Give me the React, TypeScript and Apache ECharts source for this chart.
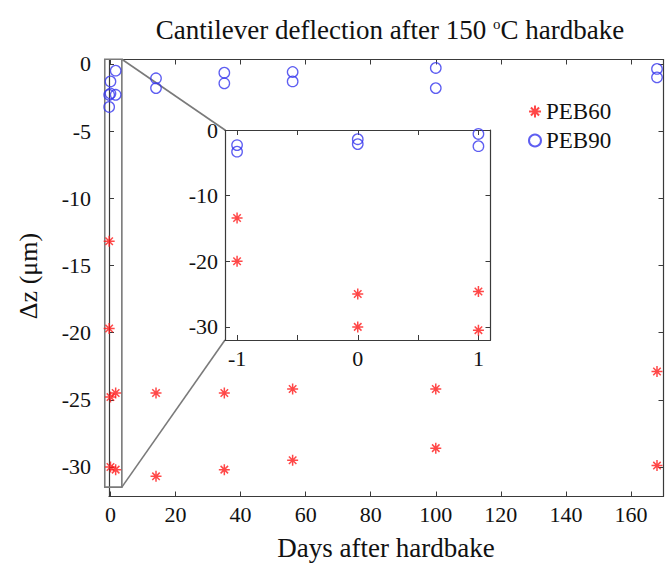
import React, { useEffect, useRef } from 'react';
import * as echarts from 'echarts';

const SERIF = "'Liberation Serif', 'DejaVu Serif', serif";
const RED = '#ff1a1a';
const BLUE = '#3636ee';
const AXIS = '#3a3a3a';
const BOXC = '#7a7a7a';

// Main plot data (days after hardbake)
const mainDays = [-0.4, 0, 1.6, 14, 35, 56, 100, 168];
const peb60Upper = [-13.2, -24.8, -24.5, -24.5, -24.5, -24.2, -24.2, -22.9];
const peb60Lower = [-19.7, -30.0, -30.2, -30.7, -30.2, -29.5, -28.6, -29.9];
const peb90Upper = [-2.3, -1.3, -0.5, -1.07, -0.65, -0.6, -0.3, -0.37];
const peb90Lower = [-3.2, -2.2, -2.3, -1.8, -1.44, -1.3, -1.8, -1.0];

// Inset data
const insetX = [-1, 0, 1];
const insetPeb60Upper = [-13.4, -25.0, -24.6];
const insetPeb60Lower = [-20.0, -30.0, -30.5];
const insetPeb90Upper = [-2.3, -1.4, -0.6];
const insetPeb90Lower = [-3.3, -2.15, -2.46];

// Tick labels
const mainXTicks = [0, 20, 40, 60, 80, 100, 120, 140, 160];
const mainYTicks = [0, -5, -10, -15, -20, -25, -30];
const insetXTicks = [-1, -0.5, 0, 0.5, 1];
const insetXLabels = [-1, 0, 1];
const insetYTicks = [0, -10, -20, -30];

// Zoom box (data extent in main axes)
const zoomBox = { x0: -1.75, x1: 3.5, y0: -31.5, y1: 0.35 };

const pairs = (xs: number[], a: number[], b: number[]) =>
  xs.flatMap((x, i) => [[x, a[i]], [x, b[i]]]);

const STAR = 'path://M5,0L5,10M0,5L10,5M1.6,1.6L8.4,8.4M1.6,8.4L8.4,1.6';

const starStyle = { color: 'transparent', borderColor: RED, borderWidth: 1.5 };
const circStyle = { color: 'transparent', borderColor: BLUE, borderWidth: 1.3 };

const axisLine = { show: true, onZero: false, lineStyle: { color: AXIS, width: 1.2 } };
const lbl = { fontFamily: SERIF, fontSize: 22, color: '#111' };

function xAx(grid: number, pos: string, min: number, max: number, ticks: number[], labels: number[] | null, z: number) {
  return {
    type: 'value', gridIndex: grid, position: pos, min, max, z,
    axisLine, splitLine: { show: false },
    axisTick: { show: true, inside: true, length: 5, customValues: ticks, lineStyle: { color: AXIS } },
    axisLabel: labels ? { show: true, customValues: labels, margin: 7, ...lbl } : { show: false },
  };
}
function yAx(grid: number, pos: string, min: number, max: number, ticks: number[], labels: number[] | null, margin: number, z: number) {
  return {
    type: 'value', gridIndex: grid, position: pos, min, max, z,
    axisLine, splitLine: { show: false },
    axisTick: { show: true, inside: true, length: 5, customValues: ticks, lineStyle: { color: AXIS } },
    axisLabel: labels ? { show: true, customValues: labels, margin, ...lbl } : { show: false },
  };
}

export default function App() {
  const ref = useRef<HTMLDivElement>(null);
  useEffect(() => {
    document.body.style.margin = '0';
    const chart = echarts.init(ref.current!, null, { renderer: 'svg' });
    const option: any = {
      animation: false,
      backgroundColor: '#fff',
      textStyle: { fontFamily: SERIF },
      grid: [
        { left: 109, right: 7.5, top: 59.5, bottom: 66.5, show: false },
        { left: 225, right: 180.5, top: 130, bottom: 223, show: true, backgroundColor: '#fff', borderWidth: 0, z: 10 },
      ],
      xAxis: [
        xAx(0, 'bottom', -0.45, 170, mainXTicks, mainXTicks, 0),
        xAx(0, 'top', -0.45, 170, mainXTicks, null, 0),
        xAx(1, 'bottom', -1.1, 1.1, insetXTicks, insetXLabels, 11),
        xAx(1, 'top', -1.1, 1.1, insetXTicks, null, 11),
      ],
      yAxis: [
        yAx(0, 'left', -32.2, 0.33, mainYTicks, mainYTicks, 18, 0),
        yAx(0, 'right', -32.2, 0.33, mainYTicks, null, 0, 0),
        yAx(1, 'left', -32, 0, insetYTicks, insetYTicks, 7, 11),
        yAx(1, 'right', -32, 0, insetYTicks, null, 0, 11),
      ],
      legend: {
        data: ['PEB60', 'PEB90'],
        orient: 'vertical',
        left: 523, top: 95,
        itemWidth: 12, itemHeight: 12, itemGap: 6,
        textStyle: { fontFamily: SERIF, fontSize: 23, color: '#111' },
      },
      series: [
        {
          name: 'PEB60', type: 'scatter', xAxisIndex: 0, yAxisIndex: 0, clip: false,
          symbol: STAR, symbolSize: 11, itemStyle: starStyle, z: 3,
          data: pairs(mainDays, peb60Upper, peb60Lower),
        },
        {
          name: 'PEB90', type: 'scatter', xAxisIndex: 0, yAxisIndex: 0, clip: false,
          symbol: 'circle', symbolSize: 10.5, itemStyle: circStyle, z: 3,
          data: pairs(mainDays, peb90Upper, peb90Lower),
        },
        {
          name: 'PEB60', type: 'scatter', xAxisIndex: 2, yAxisIndex: 2, clip: false,
          symbol: STAR, symbolSize: 11, itemStyle: starStyle, z: 12,
          data: pairs(insetX, insetPeb60Upper, insetPeb60Lower),
        },
        {
          name: 'PEB90', type: 'scatter', xAxisIndex: 2, yAxisIndex: 2, clip: false,
          symbol: 'circle', symbolSize: 10.5, itemStyle: circStyle, z: 12,
          data: pairs(insetX, insetPeb90Upper, insetPeb90Lower),
        },
      ],
    };
    chart.setOption(option);

    const m = (pt: number[]) => chart.convertToPixel({ xAxisIndex: 0, yAxisIndex: 0 }, pt) as number[];
    const n = (pt: number[]) => chart.convertToPixel({ xAxisIndex: 2, yAxisIndex: 2 }, pt) as number[];
    const tl = m([zoomBox.x0, zoomBox.y1]);
    const br = m([zoomBox.x1, zoomBox.y0]);
    const itl = n([-1.1, 0]);
    const ibl = n([-1.1, -32]);
    const lineStyle = { stroke: BOXC, lineWidth: 1.6 };

    chart.setOption({
      graphic: [
        {
          type: 'text', id: 'title', x: 390, y: 30, z: 20,
          style: {
            text: 'Cantilever deflection after 150 {sup|o}C hardbake',
            fontFamily: SERIF, fontSize: 27, fill: '#111',
            align: 'center', verticalAlign: 'middle',
            rich: { sup: { fontFamily: SERIF, fontSize: 15, fill: '#111', verticalAlign: 'top', lineHeight: 27 } },
          },
        },
        {
          type: 'text', id: 'xname', x: 386, y: 548, z: 20,
          style: { text: 'Days after hardbake', fontFamily: SERIF, fontSize: 27, fill: '#111', align: 'center', verticalAlign: 'middle' },
        },
        {
          type: 'text', id: 'yname', x: 28, y: 276, rotation: Math.PI / 2, z: 20,
          style: { text: 'Δz (μm)', fontFamily: SERIF, fontSize: 26, fill: '#111', align: 'center', verticalAlign: 'middle' },
        },
        {
          type: 'rect', id: 'zoombox', z: 1,
          shape: { x: tl[0], y: tl[1], width: br[0] - tl[0], height: br[1] - tl[1] },
          style: { fill: 'none', ...lineStyle },
        },
        {
          type: 'line', id: 'conn1', z: 1,
          shape: { x1: br[0], y1: tl[1], x2: itl[0], y2: itl[1] },
          style: lineStyle,
        },
        {
          type: 'line', id: 'conn2', z: 1,
          shape: { x1: br[0], y1: br[1], x2: ibl[0], y2: ibl[1] },
          style: lineStyle,
        },
      ],
    });
    return () => chart.dispose();
  }, []);
  return <div ref={ref} style={{ width: 671, height: 563 }} />;
}
